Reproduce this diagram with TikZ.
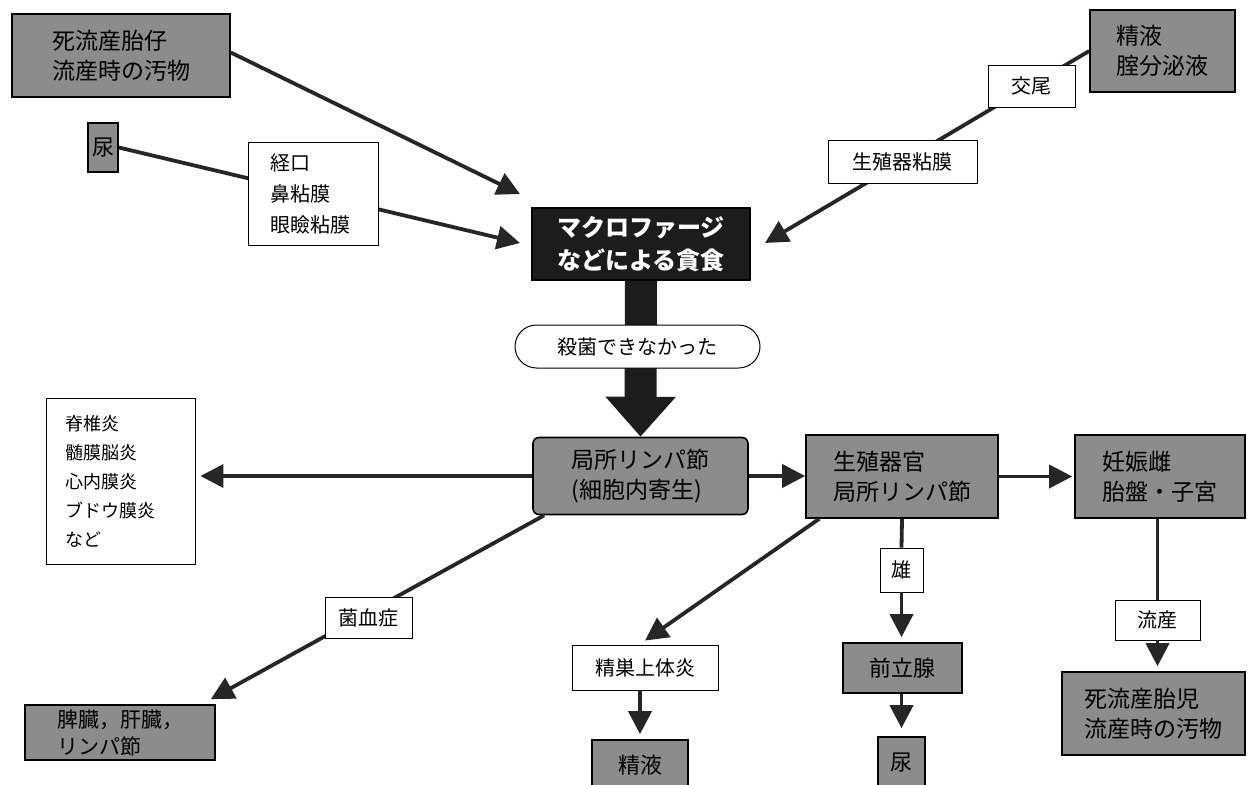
\documentclass[tikz,border=0pt]{standalone}
\usepackage{fontspec}
\setmainfont{Noto Sans CJK JP}
\usetikzlibrary{arrows.meta,shapes.misc}
\definecolor{boxgray}{RGB}{140,140,140}
\definecolor{darkfill}{RGB}{28,28,28}
\begin{document}
\begin{tikzpicture}[x=1pt,y=-1pt,
  gbox/.style={draw=black,line width=1.6pt,fill=boxgray,inner sep=0pt,align=left,font=\fontsize{23}{30}\selectfont},
  wbox/.style={draw=black,line width=0.9pt,fill=white,inner sep=0pt,align=left,font=\fontsize{20}{31}\selectfont},
  conn/.style={line width=3.8pt,draw=black!85},
  arr/.style={conn,-{Triangle[length=23pt,width=23pt]}},
]
\useasboundingbox (0,0) rectangle (1249,784);
\fill[white] (0,0) rectangle (1249,784);
\clip (0,0) rectangle (1249,784);

% main boxes
\node[gbox,minimum width=218pt,minimum height=83pt] (dead1) at (121,55.5) {死流産胎仔\\流産時の汚物};
\node[gbox,minimum width=145pt,minimum height=82pt] (semen1) at (1162.5,51) {精液\\腟分泌液};
\node[gbox,minimum width=30pt,minimum height=49pt,font=\fontsize{22}{28}\selectfont] (urine1) at (103,147.5) {尿};
\node[draw=black,line width=1.6pt,fill=darkfill,text=white,inner sep=0pt,align=center,
      minimum width=218pt,minimum height=72pt,font=\fontsize{24}{33}\selectfont\bfseries] (mac) at (641,244) {マクロファージ\\などによる貪食};
\node[gbox,rounded corners=6pt,minimum width=215pt,minimum height=77pt] (local) at (640.5,476) {局所リンパ節\\(細胞内寄生)};
\node[wbox,text width=111pt,inner xsep=19pt,minimum height=166pt,font=\fontsize{18}{29}\selectfont] (list) at (120.5,481) {脊椎炎\\髄膜脳炎\\心内膜炎\\ブドウ膜炎\\など};
\node[gbox,minimum width=192pt,minimum height=83pt] (genorg) at (902,476.5) {生殖器官\\局所リンパ節};
\node[gbox,minimum width=170pt,minimum height=83pt] (preg) at (1160,476.5) {妊娠雌\\胎盤・子宮};
\node[gbox,minimum width=190pt,minimum height=55pt,font=\fontsize{21}{27}\selectfont] (spleen) at (120,732.5) {脾臓，肝臓，\\リンパ節};
\node[wbox,minimum width=146pt,minimum height=45pt] (epid) at (645,667.5) {精巣上体炎};
\node[gbox,minimum width=96pt,minimum height=50pt,font=\fontsize{22}{28}\selectfont] (semen2) at (640,765) {精液};
\node[wbox,minimum width=43pt,minimum height=44pt] (male) at (901.5,570) {雄};
\node[gbox,minimum width=119pt,minimum height=50pt,font=\fontsize{22}{28}\selectfont] (prost) at (902.5,668) {前立腺};
\node[gbox,minimum width=47pt,minimum height=52pt,font=\fontsize{22}{28}\selectfont] (urine2) at (901.5,763) {尿};
\node[wbox,minimum width=85pt,minimum height=40pt] (abort) at (1157.5,620) {流産};
\node[gbox,minimum width=183pt,minimum height=83pt] (dead2) at (1153.5,713.5) {死流産胎児\\流産時の汚物};

% arrow tip points
\coordinate (t1) at (520,194);
\coordinate (t2) at (520,243);
\coordinate (t3) at (765,243);

% connectors running through label boxes
\draw[arr] ([yshift=3pt]dead1.east) -- (t1);
\draw[arr] (urine1.east) -- (t2);
\draw[arr] (semen1.west) -- (t3);
\draw[arr] ([xshift=12pt]local.south west) -- ([shift={(-5,-5)}]spleen.north east);
\draw[line width=32pt,draw=darkfill,-{Triangle[length=40pt,width=68pt]}] (mac.south) -- (local.north);

% label boxes on the connectors
\node[wbox,minimum width=130pt,minimum height=103pt,text width=86pt,inner xsep=22pt] (oral) at (313,193.5) {経口\\鼻粘膜\\眼瞼粘膜};
\node[wbox,minimum width=87pt,minimum height=42pt] (kobi) at (1031.5,86) {交尾};
\node[wbox,minimum width=149pt,minimum height=43pt] (genmuc) at (902.5,161.5) {生殖器粘膜};
\node[wbox,minimum width=87pt,minimum height=41pt] (bact) at (368.5,617.5) {菌血症};
\node[draw=black,line width=1pt,fill=white,rounded rectangle,inner sep=0pt,
      minimum width=245pt,minimum height=43pt,font=\fontsize{20}{26}\selectfont] (kill) at (637.5,346.5) {殺菌できなかった};

% remaining connectors
\draw[arr,shorten >=5pt] (local.west) -- (local.west -| list.east);
\draw[arr] (local.east) -- (local.east -| genorg.west);
\draw[arr,shorten >=2pt] (genorg.east) -- (preg.west);
\draw[arr] ([xshift=14pt]genorg.south west) -- ([yshift=4pt]epid.north);
\draw[arr,shorten >=5pt] (epid.south -| semen2.north) -- (semen2.north);
\draw[conn] (genorg.south) -- (male.north);
\draw[arr,shorten >=5pt] (male.south) -- (male.south |- prost.north);
\draw[arr,shorten >=8pt] (prost.south -| urine2.north) -- (urine2.north);
\draw[conn] (abort.north |- preg.south) -- (abort.north);
\draw[arr,shorten >=5pt] (abort.south) -- (abort.south |- dead2.north);
\end{tikzpicture}
\end{document}
